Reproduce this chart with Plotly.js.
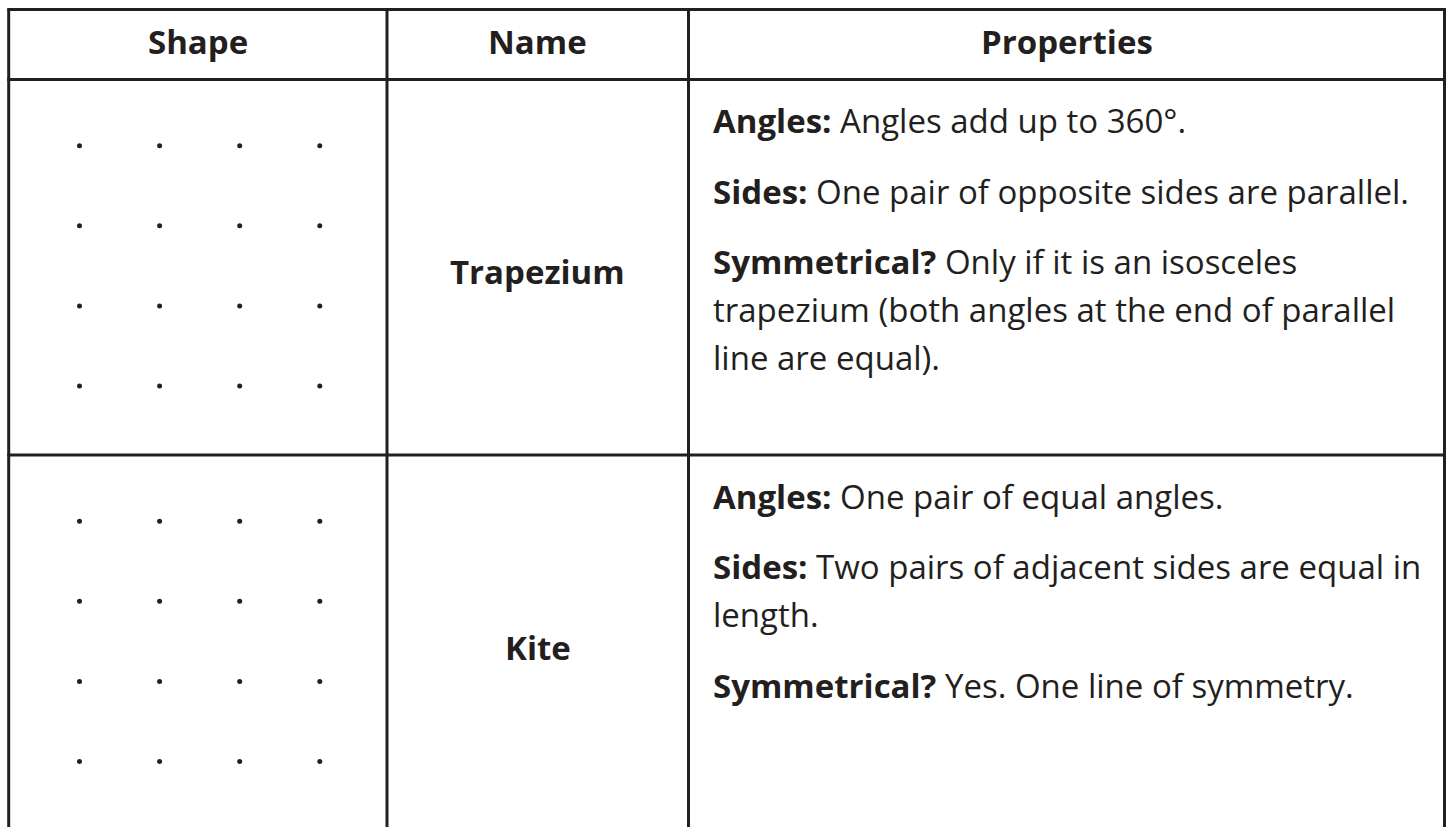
<!DOCTYPE html>
<html>
<head>
<meta charset="utf-8">
<script src="https://cdn.plot.ly/plotly-3.0.1.min.js"></script>
<style>
  html, body { margin: 0; padding: 0; background: #fff; }
  #chart { width: 1452px; height: 827px; }
</style>
</head>
<body>
<div id="chart"></div>
<script>
// table content
const headers = ['Shape', 'Name', 'Properties'];
const shapeNames = ['Trapezium', 'Kite'];
const properties = [
  [
    ['<b>Angles:</b> Angles add up to 360°.'],
    ['<b>Sides:</b> One pair of opposite sides are parallel.'],
    ['<b>Symmetrical?</b> Only if it is an isosceles',
     'trapezium (both angles at the end of parallel',
     'line are equal).']
  ],
  [
    ['<b>Angles:</b> One pair of equal angles.'],
    ['<b>Sides:</b> Two pairs of adjacent sides are equal in', 'length.'],
    ['<b>Symmetrical?</b> Yes. One line of symmetry.']
  ]
];
const dotCols = 4;   // dotted grid in the Shape column
const dotRows = 4;

// page geometry (pixels)
const W = 1452, H = 827;
const colEdges = [8.7, 387, 688.5, 1444.5];
const rowEdges = [9.5, 79.5, 455, 830.5];
const ink = '#231f20';
const font = '"Open Sans", Lato, sans-serif';
const fs = 33;       // body text
const fsHead = 33;   // headers and names
const lineStep = 48, paraStep = 70.5, firstBase = 55.5;
const dotX0 = 79.5, dotY0 = 66.2, dotGap = 80.1;
const baseShift = 0.43; // annotation middle sits this many font sizes above the baseline

const shapes = [];
function line(x0, y0, x1, y1) {
  shapes.push({type: 'line', xref: 'x', yref: 'y', x0, y0, x1, y1,
               line: {color: ink, width: 3}});
}
// horizontal rules (no bottom rule, the page is cut)
[rowEdges[0], rowEdges[1], rowEdges[2]].forEach(y => line(colEdges[0] - 1.5, y, colEdges[3] + 1.5, y));
colEdges.forEach(x => line(x, rowEdges[0], x, H + 5));

const annotations = [];
// header
headers.forEach((h, i) => {
  annotations.push({
    x: (colEdges[i] + colEdges[i + 1]) / 2, y: 56 - baseShift * fsHead,
    text: '<b>' + h + '</b>', showarrow: false, xanchor: 'center', yanchor: 'middle',
    font: {family: font, size: fsHead, color: ink}
  });
});

const nameBase = [286, 661.7];
const dotsX = [], dotsY = [];
shapeNames.forEach((name, r) => {
  const top = rowEdges[r + 1];
  // name, centred in the column
  annotations.push({
    x: (colEdges[1] + colEdges[2]) / 2, y: nameBase[r] - baseShift * fsHead,
    text: '<b>' + name + '</b>', showarrow: false, xanchor: 'center', yanchor: 'middle',
    font: {family: font, size: fsHead, color: ink}
  });
  // properties, one annotation per printed line
  let base = top + firstBase;
  properties[r].forEach(para => {
    para.forEach((txt, k) => {
      if (k > 0) base += lineStep;
      annotations.push({
        x: colEdges[2] + 22, y: base - baseShift * fs, text: txt, showarrow: false,
        xanchor: 'left', yanchor: 'middle',
        font: {family: font, size: fs, color: ink}
      });
    });
    base += paraStep;
  });
  // dot grid
  for (let i = 0; i < dotRows; i++) {
    for (let j = 0; j < dotCols; j++) {
      dotsX.push(dotX0 + j * dotGap);
      dotsY.push(top + dotY0 + i * dotGap);
    }
  }
});

const dots = {
  x: dotsX, y: dotsY, type: 'scatter', mode: 'markers',
  marker: {color: ink, size: 5}, hoverinfo: 'skip', showlegend: false
};

const layout = {
  width: W, height: H,
  margin: {l: 0, r: 0, t: 0, b: 0},
  paper_bgcolor: '#fff', plot_bgcolor: '#fff',
  xaxis: {range: [0, W], visible: false, fixedrange: true},
  yaxis: {range: [H, 0], visible: false, fixedrange: true},
  shapes: shapes,
  annotations: annotations,
  showlegend: false
};

Plotly.newPlot('chart', [dots], layout, {displayModeBar: false, staticPlot: true});
</script>
</body>
</html>
